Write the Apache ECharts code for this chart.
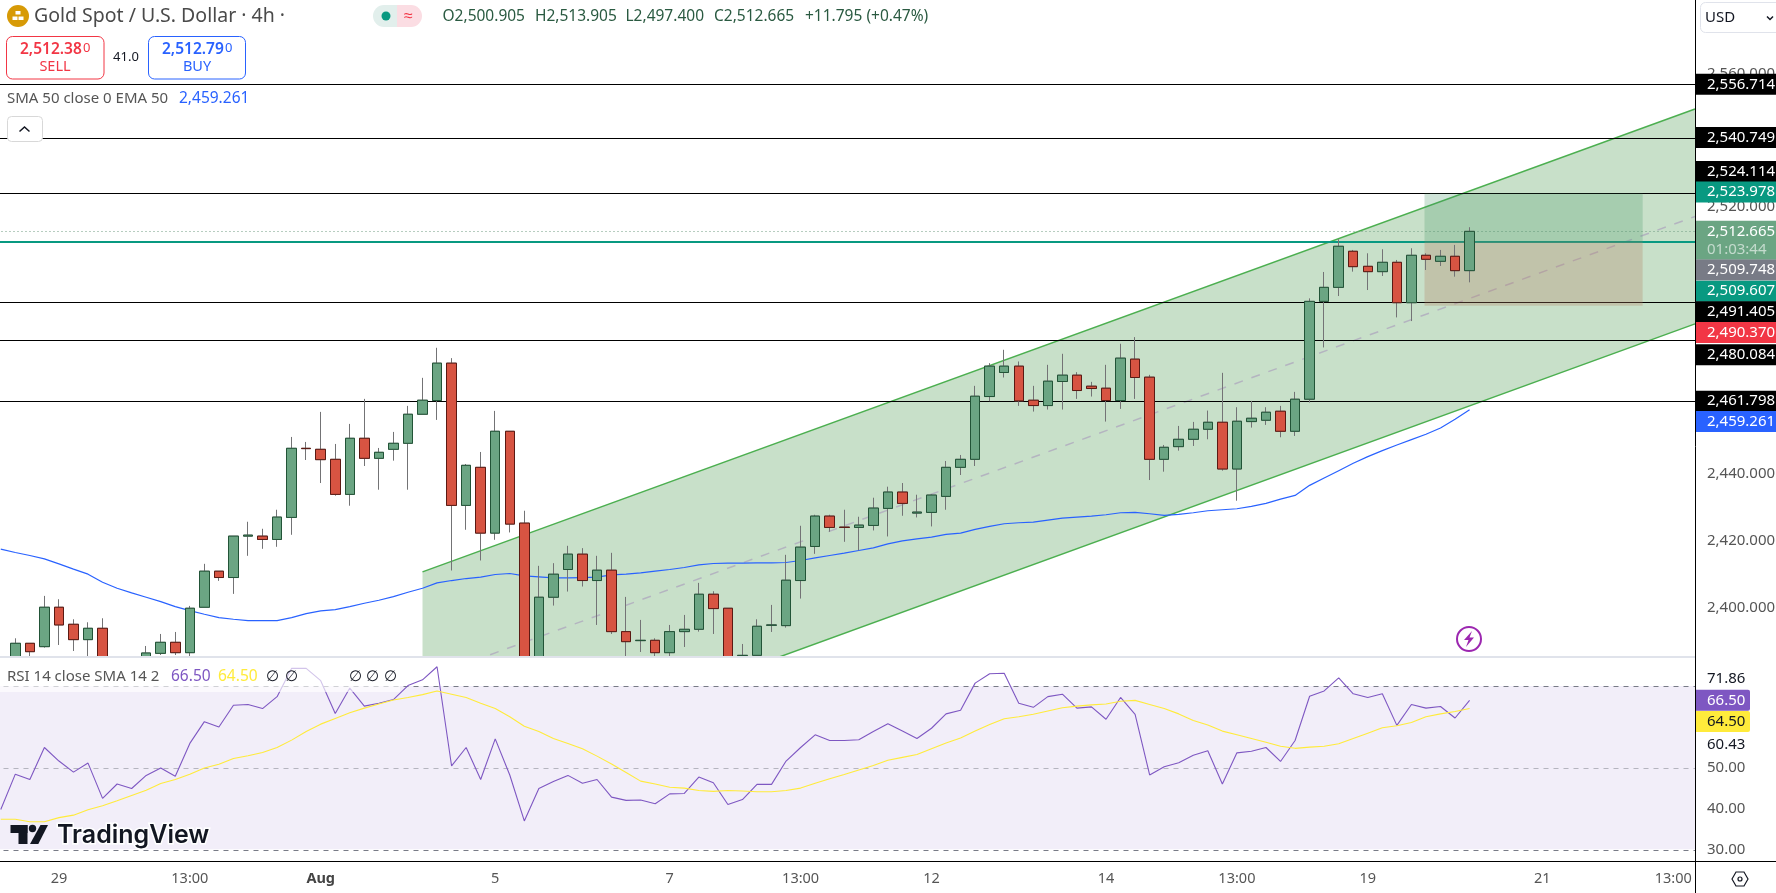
<!DOCTYPE html>
<html>
<head>
<meta charset="utf-8">
<title>Gold Spot / U.S. Dollar 4h</title>
<script src="https://cdn.jsdelivr.net/npm/echarts@6/dist/echarts.min.js"></script>
<style>
html, body { margin: 0; padding: 0; background: #fff; }
#chart { width: 1776px; height: 893px; }
</style>
</head>
<body>
<div id="chart"></div>
<script>
// 4h candles, left to right
const opens = [
  2378,2383,2389.3,2388.3,2400.1,2395,2390.4,2393.8,2380,2376,
  2383.5,2386.3,2389.6,2386.5,2400.1,2410.9,2409,2421.4,2421.4,2420.4,
  2427,2447.7,2447.4,2444.4,2433.9,2450.7,2444.7,2447.4,2449.2,2457.9,
  2462,2473.2,2430.6,2442,2422.3,2452.8,2425.3,2378,2403.1,2411.4,
  2416,2408.1,2411.2,2392.8,2390.1,2390.2,2386.5,2392.8,2393.5,2404,
  2399.8,2385.6,2385.7,2394.7,2394.6,2408.1,2418.3,2427.4,2424.1,2424,
  2424.6,2429.7,2434.6,2428.3,2428.5,2433.3,2442,2444.4,2463.2,2470.4,
  2472.3,2462.1,2460.5,2467.7,2469.6,2466.3,2465.7,2462,2474.4,2469,
  2444.4,2448.2,2450.4,2453.4,2455.5,2441.5,2455.7,2456.1,2458.8,2452.8,
  2462.4,2491.7,2495.9,2506.7,2502.2,2500.6,2503.4,2491.3,2505.5,2503.7,
  2505.2,2500.905
]
const closes = [
  2383,2389.3,2386.8,2400.1,2394.8,2390.4,2393.8,2380,2376,2381,
  2386.4,2389.6,2386.5,2399.8,2410.9,2409,2421.4,2421.7,2420.4,2427.1,
  2447.7,2447.6,2444.3,2433.9,2450.7,2444.7,2446.5,2449.2,2457.9,2462.1,
  2473.2,2430.6,2442.6,2422.3,2452.8,2425,2378,2403.1,2410,2416,
  2408.1,2411.2,2392.8,2389.8,2390.2,2386.5,2392.8,2393.5,2404,2399.7,
  2384,2385.7,2394.4,2394.8,2408.2,2418.1,2427.4,2424,2424,2424.7,
  2429.8,2434.6,2431.2,2428.6,2433.7,2442,2444.4,2463.3,2472.3,2472.3,
  2461.9,2460.5,2467.8,2469.6,2465,2465.6,2462,2474.7,2468.9,2444.4,
  2448,2450.4,2453.4,2455.5,2441.5,2455.8,2456.7,2458.5,2452.8,2462.4,
  2491.7,2495.9,2508.2,2502.1,2500.6,2503.4,2491.3,2505.5,2504.3,2505.2,
  2500.9,2512.665
]
const lows = [
  2376,2381,2384,2388,2388.8,2387,2384,2378,2374,2374,
  2382,2385.8,2385.8,2385,2400.1,2408,2404.1,2415.5,2417.6,2418.2,
  2421.8,2444.2,2437.3,2433.5,2430.5,2442.4,2435.3,2444,2435.3,2457.9,
  2456.2,2411.1,2423.3,2414.1,2420.3,2422.5,2375,2376,2400.6,2404.8,
  2406.3,2394.8,2392.1,2385,2386.7,2385,2385.2,2388.2,2392.8,2392.1,
  2383,2384,2385,2392.7,2394,2402.7,2416.1,2422.7,2419.7,2417.1,
  2423.1,2421.3,2427.5,2427,2424.3,2429.3,2439.7,2442.4,2461.8,2468.9,
  2460.4,2458.7,2459.3,2459.3,2462.5,2463.2,2455.7,2459.5,2462.5,2438.2,
  2440.7,2447,2448.4,2450.4,2441,2432,2453.9,2454.7,2451,2451.4,
  2461.4,2477.9,2493.3,2500.6,2495.1,2499.3,2486.9,2485.8,2501.1,2502.3,
  2499.1,2497.4
]
const highs = [
  2384,2390.8,2389.3,2403.5,2402.5,2396.5,2395.6,2396.8,2382,2383,
  2388.5,2392.1,2392.7,2400.5,2413.1,2410.9,2421.4,2425.7,2423.6,2429.3,
  2451.1,2449.6,2458.6,2449,2455,2462.5,2447.8,2452.6,2460.4,2468.8,
  2477.8,2474.7,2443,2446.6,2458.9,2452.8,2429,2412.5,2413.3,2418.5,
  2417.8,2415.5,2416.4,2403.2,2396.3,2390.8,2394.8,2397.8,2407.4,2404.9,
  2399.8,2389.1,2396.5,2400.8,2415.8,2424.5,2427.8,2427.8,2429.3,2427.2,
  2432.9,2436.2,2437.3,2433.8,2433.9,2443.9,2445.7,2466.4,2473.2,2477.2,
  2473.7,2466.4,2472.7,2476,2470.5,2467.6,2472.7,2479,2481,2469.7,
  2448.7,2454.4,2455.6,2459,2470.3,2460,2461.9,2460,2460.4,2464.6,
  2492.6,2500.5,2510.3,2507.1,2506.1,2507.3,2504.1,2507.6,2506.1,2507.1,
  2508.6,2513.905
]
const ema50 = [
  2417.5,2416.5,2415.6,2414.6,2413.1,2411.5,2410,2407.6,2405.8,2404.4,
  2403.1,2401.8,2400.3,2399.1,2398,2397,2396.5,2396.1,2396.1,2396.1,
  2397,2398.2,2399,2399.4,2400.3,2401.3,2402.2,2403.3,2404.6,2405.8,
  2407.4,2408.1,2408.7,2409.1,2409.9,2410.2,2409.5,2409.2,2408.9,2408.9,
  2409,2409.1,2409.8,2410,2410.4,2410.9,2411.4,2412,2412.8,2413.2,
  2413.3,2413.3,2413.4,2413.4,2413.5,2414.1,2414.9,2415.6,2416.3,2417.1,
  2417.9,2419.1,2420,2420.6,2421.1,2421.9,2422.3,2423.4,2424.3,2425.1,
  2425.4,2425.6,2426.2,2426.8,2427.1,2427.4,2427.8,2428.4,2428.5,2428.1,
  2427.6,2427.9,2428.4,2429,2429.3,2429.6,2430.3,2431.2,2432.5,2433.6,
  2436.6,2438.8,2441,2443.2,2445.2,2447,2448.7,2450.3,2451.9,2453.8,
  2456.4,2459.261
]
const rsi = [
  39.9,48.5,47.2,55,51.7,49,51.2,42.6,46.1,45,
  48.2,50,48,56,61.3,60,65.3,65.5,64.5,67.4,
  74.3,74.3,71.3,63.3,69.5,65.1,65.8,66.7,70.1,71.5,
  74.7,50.5,55,47.2,57.1,48.3,37.1,45,46.7,48.2,
  46.3,47.2,42.9,42.1,42.2,41.3,43.7,43.8,47.8,46.4,
  41.1,42.3,46,46,51.7,55,58.1,56.7,56.7,56.9,
  58.9,60.8,59,57.2,59.7,63.2,64.1,70.7,73,73.1,
  65.8,64.8,67.4,68,64.6,64.9,61.9,67.2,63.1,48.3,
  50.3,51.3,53.1,54.2,46.1,53.7,54.1,55,51.6,56.7,
  67.5,68.8,72,68.1,67.2,68.1,60.4,65.5,64.6,65,
  62.2,66.5
]
const rsiSma = [
  37.5,37.5,36.9,36.9,37.9,38.5,39.8,40.8,42,43.3,
  44.6,46.2,47.2,48.5,50,50.9,52.3,53,53.8,55,
  56.8,58.9,60.7,62.1,63.5,64.6,65.6,66.6,67.2,67.9,
  68.8,68,67.2,65.8,64.5,62.5,60.2,58.9,57.2,56,
  54.7,52.9,51,48.9,46.8,46.1,45.3,45.1,44.5,44.3,
  44.5,44.4,44.2,44.2,44.5,45.1,46.3,47.4,48.4,49.5,
  50.6,51.9,52.6,53.3,54.7,56.1,57.3,59,60.6,62,
  62.5,63.1,63.9,64.7,65.1,65.4,65.6,66.3,66.5,65.5,
  64.5,63.2,61.6,60.5,59,58.1,57.2,56.3,55.3,54.8,
  55.1,55.3,55.9,57.2,58.5,59.8,60.3,61.1,62.5,63.2,
  63.8,64.5
]

// time axis ticks, by candle slot
const tickSlots = [4, 13, 22, 34, 46, 55, 64, 76, 85, 94, 106, 115]
const tickTexts = ['29', '13:00', 'Aug', '5', '7', '13:00', '12', '14', '13:00', '19', '21', '13:00']
const slotCount = 117

// price axis ticks
const priceTicks = [2560, 2520, 2440, 2420, 2400]
const rsiTicks = [50, 40, 30]

// support / resistance levels
const levels = [2556.714, 2540.749, 2524.114, 2491.405, 2480.084, 2461.798]

// parallel channel, slot -> price
const channelSlots = [29, 116.5]
const channelUpper = [2410.7, 2549.3]
const channelLower = [2346.35, 2484.95]

// long position tool
const boxSlots = [97.9, 112.9]
const boxTarget = 2523.978
const boxEntry = 2509.607
const boxStop = 2490.37

const lastClose = 2512.665

// right hand price tags
const tagValues = [2556.714, 2540.749, 2524.114, 2523.978, 2512.665, 2509.748, 2509.607, 2491.405, 2490.37, 2480.084, 2461.798, 2459.261]
const rsiTagValues = [71.86, 66.5, 64.5, 60.43]

// header readout
const ohlcTexts = ['O2,500.905', 'H2,513.905', 'L2,497.400', 'C2,512.665', '+11.795 (+0.47%)']

const FONT = '"Noto Sans", sans-serif'
const UP = '#6ba583', UP_DARK = '#225437', DOWN = '#d75442', DOWN_DARK = '#5b1a13', WICK = '#737375'

const fmtPrice = (v) => v.toLocaleString('en-US', { minimumFractionDigits: 3, maximumFractionDigits: 3 })

const tagStyles = [
  { bg: '#000', fg: '#fff', dy: 0 },
  { bg: '#000', fg: '#fff', dy: 0 },
  { bg: '#000', fg: '#fff', dy: -21.6 },
  { bg: '#089981', fg: '#fff', dy: -1.5 },
  { bg: '#6ba583', fg: '#fff', dy: 0, sub: '01:03:44' },
  { bg: '#787b86', fg: '#fff', dy: 29 },
  { bg: '#089981', fg: '#fff', dy: 49.6 },
  { bg: '#000', fg: '#fff', dy: 9.3 },
  { bg: '#f23645', fg: '#fff', dy: 26.8 },
  { bg: '#000', fg: '#fff', dy: 14.7 },
  { bg: '#000', fg: '#fff', dy: 0 },
  { bg: '#2962ff', fg: '#fff', dy: 11.9 }
]
const rsiTagStyles = [
  { bg: '#fff', fg: '#131722', dy: 0.5 },
  { bg: '#7e57c2', fg: '#fff', dy: 0 },
  { bg: '#ffeb3b', fg: '#131722', dy: 13 },
  { bg: '#fff', fg: '#131722', dy: 19 }
]

const categories = Array.from({ length: slotCount }, (_, i) => {
  const at = tickSlots.indexOf(i)
  return at >= 0 ? tickTexts[at] : ''
})
const candleData = opens.map((o, i) => [o, closes[i], lows[i], highs[i]])
// second layer without wick: candlestick uses one border colour for body and wick
const bodyData = opens.map((o, i) => [o, closes[i], Math.min(o, closes[i]), Math.max(o, closes[i])])

const renderChannel = (params, api) => {
  const a = api.coord([channelSlots[0], channelUpper[0]])
  const b = api.coord([channelSlots[1], channelUpper[1]])
  const c = api.coord([channelSlots[1], channelLower[1]])
  const d = api.coord([channelSlots[0], channelLower[0]])
  const m1 = [a[0], (a[1] + d[1]) / 2]
  const m2 = [b[0], (b[1] + c[1]) / 2]
  return {
    type: 'group',
    children: [
      { type: 'polygon', shape: { points: [a, b, c, d] }, style: { fill: 'rgba(56,142,60,0.28)' } },
      { type: 'line', shape: { x1: a[0], y1: a[1], x2: b[0], y2: b[1] }, style: { stroke: '#4caf50', lineWidth: 1.5 } },
      { type: 'line', shape: { x1: d[0], y1: d[1], x2: c[0], y2: c[1] }, style: { stroke: '#4caf50', lineWidth: 1.5 } },
      { type: 'line', shape: { x1: m1[0], y1: m1[1], x2: m2[0], y2: m2[1] }, style: { stroke: '#b4b4c0', lineWidth: 1.5, lineDash: [9, 9] } }
    ]
  }
}

const renderBox = (params, api) => {
  const t = api.coord([boxSlots[0], boxTarget])
  const e = api.coord([boxSlots[1], boxEntry])
  const s = api.coord([boxSlots[1], boxStop])
  return {
    type: 'group',
    children: [
      { type: 'rect', shape: { x: t[0], y: t[1], width: e[0] - t[0], height: e[1] - t[1] }, style: { fill: 'rgba(63,148,100,0.25)' } },
      { type: 'rect', shape: { x: t[0], y: e[1], width: e[0] - t[0], height: s[1] - e[1] }, style: { fill: 'rgba(180,130,100,0.3)' } }
    ]
  }
}

const renderLevels = (params, api) => {
  const cs = params.coordSys
  const line = (v, style, nudge) => {
    const y = Math.round(api.coord([0, v])[1]) + nudge
    return { type: 'line', shape: { x1: cs.x, y1: y, x2: cs.x + cs.width, y2: y }, style }
  }
  return {
    type: 'group',
    children: [
      line(lastClose, { stroke: '#6f9a80', lineWidth: 1, lineDash: [1, 3] }, 0.5),
      line(boxEntry, { stroke: '#089981', lineWidth: 2 }, 0)
    ].concat(levels.map((v) => line(v, { stroke: '#000', lineWidth: 1 }, 0.5)))
  }
}

// blank sheet over the oscillator pane: candlestick only culls whole boxes, it does not cut them at the grid edge
const renderPaneCover = (params) => {
  const cs = params.coordSys
  return { type: 'rect', shape: { x: cs.x, y: cs.y, width: cs.width, height: cs.height }, style: { fill: '#fff' } }
}

const tagRenderer = (values, styles, width, size) => (params, api) => {
  const cs = params.coordSys
  const x = cs.x + cs.width
  const kids = []
  values.forEach((v, i) => {
    const st = styles[i]
    const y = api.coord([0, v])[1] + st.dy
    const h = st.sub ? 39 : 21
    kids.push({ type: 'rect', shape: { x, y: y - 10.5, width, height: h, r: width < 70 ? [0, 2, 2, 0] : 0 }, style: { fill: st.bg } })
    kids.push({
      type: 'text',
      style: {
        text: width < 70 ? v.toFixed(2) : fmtPrice(v),
        x: x + 12, y, fill: st.fg,
        font: size + 'px ' + FONT, textAlign: 'left', textVerticalAlign: 'middle'
      }
    })
    if (st.sub) {
      kids.push({
        type: 'text',
        style: {
          text: st.sub, x: x + 12, y: y + 18, fill: 'rgba(255,255,255,0.6)',
          font: size + 'px ' + FONT, textAlign: 'left', textVerticalAlign: 'middle'
        }
      })
    }
  })
  return { type: 'group', children: kids }
}

const txt = (x, y, text, fill, size, extra) => ({
  type: 'text', x, y, z: 100,
  style: Object.assign({ text, fill, font: (size || 14) + 'px ' + FONT, textAlign: 'left', textVerticalAlign: 'middle' }, extra)
})
const box = (x, y, width, height, r, fill, stroke) => ({
  type: 'rect', z: 99, shape: { x, y, width, height, r },
  style: { fill: fill || 'transparent', stroke: stroke || 'transparent', lineWidth: 1 }
})

const ohlcX = [442.5, 535, 625.5, 714, 805]

const graphics = [
  // axis frame outside the plots
  { type: 'rect', z: 50, shape: { x: 0, y: 656, width: 1695, height: 2 }, style: { fill: '#e0e3eb' } },
  { type: 'line', z: 50, shape: { x1: 1695.5, y1: 0, x2: 1695.5, y2: 893 }, style: { stroke: '#000', lineWidth: 1 } },
  { type: 'line', z: 50, shape: { x1: 0, y1: 861.5, x2: 1776, y2: 861.5 }, style: { stroke: '#000', lineWidth: 1 } },
  // header
  { type: 'circle', z: 99, shape: { cx: 18, cy: 16, r: 11 }, style: { fill: '#d79a06' } },
  box(12.5, 16.5, 5, 3.5, 0, '#fff'), box(18.5, 16.5, 5, 3.5, 0, '#fff'), box(15.5, 11, 5, 3.5, 0, '#fff'),
  txt(34, 16.5, 'Gold Spot / U.S. Dollar · 4h ·', '#4a4a4a', 19.5),
  box(373, 5, 25, 22, [11, 0, 0, 11], '#e2efec'),
  box(397, 5, 25, 22, [0, 11, 11, 0], '#fbdde3'),
  { type: 'circle', z: 100, shape: { cx: 386, cy: 16, r: 4.5 }, style: { fill: '#089981' } },
  txt(404, 16, '≈', '#f23645', 16)
].concat(ohlcTexts.map((t, i) => txt(ohlcX[i], 16.5, t, '#2a5a41', 15.5)), [
  box(6.5, 36.5, 97.5, 42.5, 6, '#fff', '#f23645'),
  txt(20, 50, '2,512.38', '#f23645', 15, { font: '600 15.5px ' + FONT }),
  txt(83, 48, '0', '#f23645', 13),
  txt(55, 67, 'SELL', '#f23645', 14.5, { textAlign: 'center' }),
  txt(126, 57, '41.0', '#131722', 13, { textAlign: 'center' }),
  box(148.5, 36.5, 97, 42.5, 6, '#fff', '#2962ff'),
  txt(162, 50, '2,512.79', '#2962ff', 15, { font: '600 15.5px ' + FONT }),
  txt(225, 48, '0', '#2962ff', 13),
  txt(197, 67, 'BUY', '#2962ff', 14.5, { textAlign: 'center' }),
  txt(7, 99, 'SMA 50 close 0 EMA 50', '#555', 15),
  txt(179, 99, '2,459.261', '#2962ff', 15.5),
  box(7.5, 116.5, 35, 25, 4, '#fff', '#d8d8d8'),
  { type: 'polyline', z: 100, shape: { points: [[19.5, 131.5], [24.5, 127], [29.5, 131.5]] }, style: { stroke: '#131722', fill: 'none', lineWidth: 1.5 } },
  // currency selector
  box(1700.5, 2.5, 90, 30, 5, '#fff', '#e0e3eb'),
  txt(1705, 18, 'USD', '#131722', 15),
  { type: 'polyline', z: 100, shape: { points: [[1767, 16.5], [1770, 19.5], [1773, 16.5]] }, style: { stroke: '#131722', fill: 'none', lineWidth: 1.5 } },
  // bolt marker
  { type: 'circle', z: 100, shape: { cx: 1469, cy: 639, r: 12 }, style: { fill: '#fff', stroke: '#9c27b0', lineWidth: 2 } },
  { type: 'polygon', z: 101, shape: { points: [[1472, 631], [1464, 640], [1468.5, 640], [1466, 647], [1474, 637.5], [1469.5, 637.5]] }, style: { fill: '#9c27b0' } },
  // rsi legend
  { type: 'rect', z: 98, shape: { x: 0, y: 660, width: 400, height: 32 }, style: { fill: 'rgba(255,255,255,0.65)' } },
  txt(7, 677, 'RSI 14 close SMA 14 2', '#555', 15),
  txt(171, 677, '66.50', '#7e57c2', 15.5),
  txt(218, 677, '64.50', '#ffeb3b', 15.5),
  txt(266, 677, '∅', '#131722', 15),
  txt(285, 677, '∅', '#131722', 15),
  txt(349, 677, '∅', '#131722', 15),
  txt(366, 677, '∅', '#131722', 15),
  txt(384, 677, '∅', '#131722', 15),
  // watermark
  box(10.5, 825, 17, 8, 0, '#131722'),
  box(18.5, 825, 9, 19, 0, '#131722'),
  { type: 'circle', z: 100, shape: { cx: 32.5, cy: 828.5, r: 3.7 }, style: { fill: '#131722' } },
  { type: 'polygon', z: 100, shape: { points: [[40.5, 825], [48, 825], [38.3, 844], [30, 844]] }, style: { fill: '#131722' } },
  txt(57, 835, 'TradingView', '#131722', 25, { font: '600 25px Inter, ' + FONT, stroke: '#fff', lineWidth: 3 }),
  // settings icon
  { type: 'polygon', z: 100, shape: { points: [[1732, 879], [1736, 872], [1744, 872], [1748, 879], [1744, 886], [1736, 886]] }, style: { fill: 'none', stroke: '#131722', lineWidth: 1.2 } },
  { type: 'circle', z: 100, shape: { cx: 1740, cy: 879, r: 2 }, style: { fill: 'none', stroke: '#131722', lineWidth: 1.2 } }
])

const chart = echarts.init(document.getElementById('chart'), null, { renderer: 'canvas' })
chart.setOption({
  animation: false,
  backgroundColor: '#fff',
  textStyle: { fontFamily: FONT },
  graphic: { elements: graphics },
  grid: [
    { left: -6.5, top: 0, width: 1701.5, height: 656, outerBoundsMode: 'none' },
    { left: -6.5, top: 658, width: 1701.5, height: 203, outerBoundsMode: 'none' }
  ],
  xAxis: [
    { type: 'category', gridIndex: 0, data: categories, show: false },
    {
      type: 'category', gridIndex: 1, data: categories,
      axisLine: { show: false }, axisTick: { show: false },
      axisLabel: {
        interval: (i, v) => v !== '',
        margin: 10, color: '#555', fontSize: 14.5, fontFamily: FONT,
        formatter: (v) => (v === 'Aug' ? '{b|Aug}' : v),
        rich: { b: { fontWeight: 'bold', color: '#444', fontSize: 14.5, fontFamily: FONT } }
      }
    },
    // hidden numeric twins so drawings can sit between candle slots
    { type: 'value', gridIndex: 0, min: -0.5, max: 116.5, show: false },
    { type: 'value', gridIndex: 1, min: -0.5, max: 116.5, show: false }
  ],
  yAxis: [
    {
      type: 'value', gridIndex: 0, position: 'right', min: 2385.5, max: 2581.95, scale: true,
      splitLine: { show: false }, axisLine: { show: false }, axisTick: { show: false },
      axisLabel: {
        customValues: priceTicks, margin: 12,
        color: '#555', fontSize: 15, fontFamily: FONT, formatter: fmtPrice
      }
    },
    {
      type: 'value', gridIndex: 1, position: 'right', min: 27.32, max: 76.83,
      splitLine: { show: false }, axisLine: { show: false }, axisTick: { show: false },
      axisLabel: {
        customValues: rsiTicks, margin: 12, color: '#555', fontSize: 15, fontFamily: FONT,
        formatter: (v) => v.toFixed(2)
      }
    }
  ],
  series: [
    {
      type: 'custom', name: 'channel', xAxisIndex: 2, yAxisIndex: 0, z: 1, clip: true, silent: true,
      data: [[0, 2500]], encode: { x: 0, y: 1 }, renderItem: renderChannel
    },
    {
      type: 'custom', name: 'levels', xAxisIndex: 2, yAxisIndex: 0, z: 2, clip: true, silent: true,
      data: [[0, 2500]], encode: { x: 0, y: 1 }, renderItem: renderLevels
    },
    {
      type: 'custom', name: 'position', xAxisIndex: 2, yAxisIndex: 0, z: 2, clip: true, silent: true,
      data: [[0, 2500]], encode: { x: 0, y: 1 }, renderItem: renderBox
    },
    {
      type: 'line', name: 'EMA 50', xAxisIndex: 0, yAxisIndex: 0, z: 3, data: ema50, showSymbol: false, smooth: false,
      lineStyle: { color: '#2962ff', width: 1.2 }, silent: true
    },
    {
      type: 'candlestick', name: 'wicks', xAxisIndex: 0, yAxisIndex: 0, z: 4, barWidth: 10, data: candleData, silent: true,
      itemStyle: { color: UP, color0: DOWN, borderColor: WICK, borderColor0: WICK, borderWidth: 1 }
    },
    {
      type: 'candlestick', name: 'bodies', xAxisIndex: 0, yAxisIndex: 0, z: 5, barWidth: 10, data: bodyData, silent: true,
      itemStyle: { color: UP, color0: DOWN, borderColor: UP_DARK, borderColor0: DOWN_DARK, borderWidth: 1 }
    },
    {
      type: 'custom', name: 'pane cover', xAxisIndex: 3, yAxisIndex: 1, z: 6, silent: true,
      data: [[0, 50]], encode: { x: 0, y: 1 }, renderItem: renderPaneCover
    },
    {
      type: 'line', name: 'RSI', xAxisIndex: 1, yAxisIndex: 1, z: 9, data: rsi, showSymbol: false,
      lineStyle: { color: '#7e57c2', width: 1.1 }, silent: true,
      markArea: {
        z: 7, silent: true, itemStyle: { color: 'rgba(126,87,194,0.1)' },
        data: [[{ yAxis: 30.2 }, { yAxis: 70 }]]
      },
      markLine: {
        z: 8, silent: true, symbol: 'none', label: { show: false },
        data: [
          { yAxis: 70, lineStyle: { color: '#787b86', type: [5, 5], width: 1 } },
          { yAxis: 50, lineStyle: { color: 'rgba(120,123,134,0.5)', type: [5, 5], width: 1 } },
          { yAxis: 30, lineStyle: { color: '#787b86', type: [5, 5], width: 1 } }
        ]
      }
    },
    {
      type: 'line', name: 'RSI SMA', xAxisIndex: 1, yAxisIndex: 1, z: 10, data: rsiSma, showSymbol: false,
      lineStyle: { color: '#ffeb3b', width: 1.1 }, silent: true
    },
    {
      type: 'custom', name: 'price tags', xAxisIndex: 2, yAxisIndex: 0, z: 20, silent: true,
      data: [[0, 2500]], encode: { x: 0, y: 1 }, renderItem: tagRenderer(tagValues, tagStyles, 81, 15)
    },
    {
      type: 'custom', name: 'rsi tags', xAxisIndex: 3, yAxisIndex: 1, z: 20, silent: true,
      data: [[0, 50]], encode: { x: 0, y: 1 }, renderItem: tagRenderer(rsiTagValues, rsiTagStyles, 55, 15)
    }
  ]
})
</script>
</body>
</html>
